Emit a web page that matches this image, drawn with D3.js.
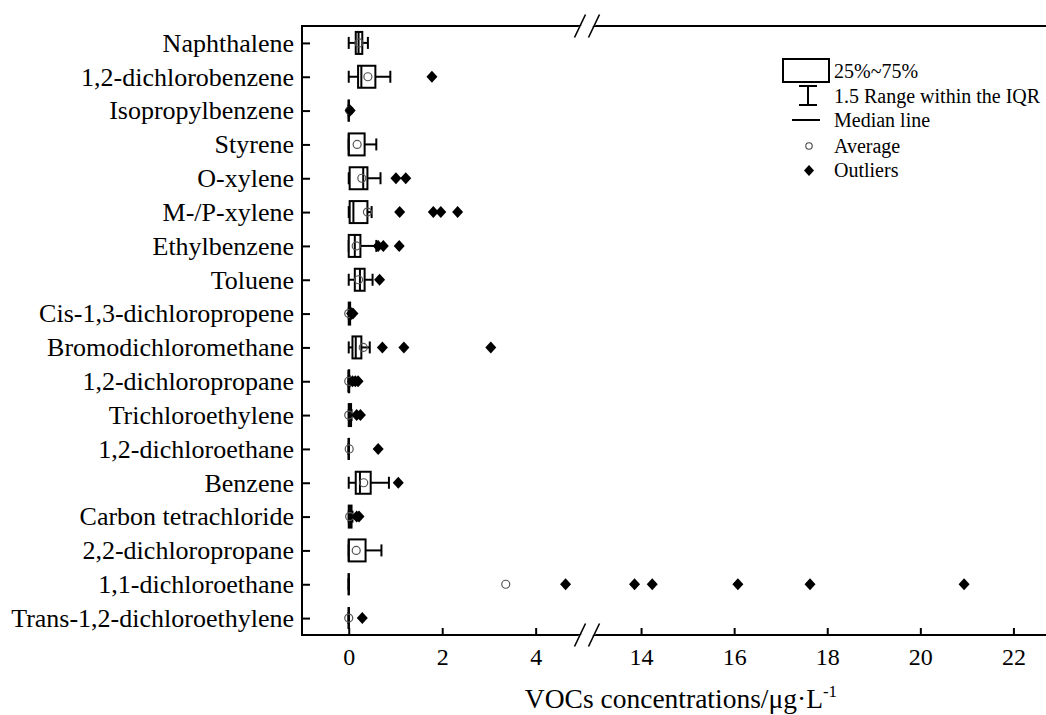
<!DOCTYPE html>
<html><head><meta charset="utf-8">
<script src="https://cdn.jsdelivr.net/npm/d3@7"></script>
<style>
html,body{margin:0;padding:0;background:#fff;}
svg{display:block;font-family:"Liberation Serif","Times New Roman",serif;}
</style></head>
<body>
<svg id="chart" width="1046" height="715"></svg>
<script>
const categories = ["Naphthalene","1,2-dichlorobenzene","Isopropylbenzene","Styrene","O-xylene","M-/P-xylene","Ethylbenzene","Toluene","Cis-1,3-dichloropropene","Bromodichloromethane","1,2-dichloropropane","Trichloroethylene","1,2-dichloroethane","Benzene","Carbon tetrachloride","2,2-dichloropropane","1,1-dichloroethane","Trans-1,2-dichloroethylene"];
const whiskerLow  = [0,   0,    0,    0,    0,    0,    0,    0,    0,    0,    0,    0,    0, 0,    0,    0,    0, 0];
const q1          = [0.15,0.20, 0,    0,    0.02, 0.02, 0,    0.13, 0,    0.08, 0,    0,    0, 0.15, 0,    0,    0, 0];
const median      = [0.21,0.27, 0,    0,    0.31, 0.10, 0.13, 0.24, 0.01, 0.15, 0,    0.02, 0, 0.24, 0.03, 0,    0, 0];
const q3          = [0.29,0.57, 0,    0.34, 0.40, 0.40, 0.25, 0.34, 0.03, 0.27, 0.01, 0.05, 0, 0.47, 0.06, 0.36, 0, 0];
const whiskerHigh = [0.41,0.89, 0,    0.59, 0.68, 0.49, 0.59, 0.51, 0.05, 0.45, 0.02, 0.06, 0, 0.86, 0.08, 0.70, 0, 0];
const means       = [0.22,0.41, 0.02, 0.18, 0.28, 0.40, 0.16, 0.21, 0,    0.31, 0,    0,    0.01, 0.32, 0.02, 0.16, 3.36, 0];
const outliers = [
  [], [1.78], [0.03], [], [1.01,1.22], [1.09,1.81,1.97,2.33], [0.63,0.74,1.08], [0.66],
  [0.06,0.09], [0.72,1.18,3.04], [0.08,0.14,0.20], [0.17,0.25], [0.63], [1.06], [0.17,0.22], [],
  [4.64,13.86,14.24,16.08,17.63,20.94], [0.29]
];
const leftTicks = [0,2,4];
const rightTicks = [14,16,18,20,22];
const legendLabels = ["25%~75%","1.5 Range within the IQR","Median line","Average","Outliers"];

const svg = d3.select("#chart");
const plotL = 302, plotT = 26, plotB = 635, plotR = 1046, breakX = 588;
const xL = d3.scaleLinear().domain([-1, 5.12]).range([plotL, breakX]);
const xR = d3.scaleLinear().domain([12.86, 22.7]).range([breakX, plotR]);
const x = v => v <= 5.12 ? xL(v) : xR(v);
const y = d3.scalePoint().domain(categories).range([plotT, plotB]).padding(0.5);

const boxH = 22, capH = 12;
const g = svg.append("g");

// boxes
categories.forEach((c, i) => {
  const cy = y(c);
  const row = g.append("g");
  row.append("line").attr("x1", x(whiskerLow[i])).attr("x2", x(q1[i])).attr("y1", cy).attr("y2", cy)
    .attr("stroke", "#000").attr("stroke-width", 2);
  row.append("line").attr("x1", x(q3[i])).attr("x2", x(whiskerHigh[i])).attr("y1", cy).attr("y2", cy)
    .attr("stroke", "#000").attr("stroke-width", 2);
  [whiskerLow[i], whiskerHigh[i]].forEach(v => {
    row.append("line").attr("x1", x(v)).attr("x2", x(v)).attr("y1", cy - capH/2).attr("y2", cy + capH/2)
      .attr("stroke", "#000").attr("stroke-width", 2);
  });
  row.append("rect").attr("x", x(q1[i])).attr("width", x(q3[i]) - x(q1[i]))
    .attr("y", cy - boxH/2).attr("height", boxH)
    .attr("fill", "#fff").attr("stroke", "#000").attr("stroke-width", 2);
  if (x(q3[i]) - x(q1[i]) < 1) {
    row.append("line").attr("x1", x(q1[i])).attr("x2", x(q1[i])).attr("y1", cy - boxH/2).attr("y2", cy + boxH/2)
      .attr("stroke", "#000").attr("stroke-width", 2.2);
  }
  row.append("line").attr("x1", x(median[i])).attr("x2", x(median[i])).attr("y1", cy - boxH/2).attr("y2", cy + boxH/2)
    .attr("stroke", "#000").attr("stroke-width", 2);
  row.append("circle").attr("cx", x(means[i])).attr("cy", cy).attr("r", 4)
    .attr("fill", "none").attr("stroke", "#555").attr("stroke-width", 1.2);
  row.selectAll("path.out").data(outliers[i]).enter().append("path")
    .attr("d", d => `M${x(d)},${cy-6}L${x(d)+5.5},${cy}L${x(d)},${cy+6}L${x(d)-5.5},${cy}Z`)
    .attr("fill", "#000");
});

// axes
const yAxis = d3.axisLeft(y).tickSizeInner(-8).tickSizeOuter(0).tickPadding(8);
const ya = svg.append("g").attr("transform", `translate(${plotL},0)`).call(yAxis);
ya.select(".domain").remove();
ya.selectAll("line").attr("stroke", "#000").attr("stroke-width", 2);
ya.selectAll("text").attr("font-size", 26).attr("fill", "#000").attr("font-family", "Liberation Serif");

function xAxis(scale, ticks) {
  const a = d3.axisBottom(scale).tickValues(ticks).tickFormat(d3.format("d"))
    .tickSizeInner(-7).tickSizeOuter(0).tickPadding(13);
  const ga = svg.append("g").attr("transform", `translate(0,${plotB})`).call(a);
  ga.select(".domain").remove();
  ga.selectAll("line").attr("stroke", "#000").attr("stroke-width", 2);
  ga.selectAll("text").attr("font-size", 24).attr("fill", "#000").attr("font-family", "Liberation Serif");
}
xAxis(xL, leftTicks);
xAxis(xR, rightTicks);

// frame lines
svg.append("line").attr("x1", plotL).attr("x2", plotL).attr("y1", plotT - 1).attr("y2", plotB + 1)
  .attr("stroke", "#000").attr("stroke-width", 2);
[plotT, plotB].forEach(yy => {
  svg.append("line").attr("x1", plotL - 1).attr("x2", plotR).attr("y1", yy).attr("y2", yy)
    .attr("stroke", "#000").attr("stroke-width", 2);
  const bx = breakX - 1;
  svg.append("polygon")
    .attr("points", `${bx-7+6},${yy-3} ${bx+7+6},${yy-3} ${bx+7-6},${yy+3} ${bx-7-6},${yy+3}`)
    .attr("fill", "#fff");
  [-7, 7].forEach(off => {
    svg.append("line").attr("x1", bx + off - 5.5).attr("y1", yy + 11.5)
      .attr("x2", bx + off + 5.5).attr("y2", yy - 11.5)
      .attr("stroke", "#000").attr("stroke-width", 1.6);
  });
});

// axis title
const title = svg.append("text").attr("x", 681).attr("y", 708).attr("text-anchor", "middle")
  .attr("font-size", 27.5).attr("fill", "#000");
title.append("tspan").text("VOCs concentrations/μg·L");
title.append("tspan").attr("dy", -11).attr("font-size", 17).text("-1");

// legend
const lg = svg.append("g").attr("font-size", 20);
const ly = [71, 96, 120, 146, 170];
lg.append("rect").attr("x", 783).attr("y", 59).attr("width", 46).attr("height", 23)
  .attr("fill", "#fff").attr("stroke", "#000").attr("stroke-width", 2);
lg.append("line").attr("x1", 808).attr("x2", 808).attr("y1", 86).attr("y2", 105).attr("stroke", "#000").attr("stroke-width", 2);
lg.append("line").attr("x1", 799).attr("x2", 817).attr("y1", 86).attr("y2", 86).attr("stroke", "#000").attr("stroke-width", 2);
lg.append("line").attr("x1", 799).attr("x2", 817).attr("y1", 105).attr("y2", 105).attr("stroke", "#000").attr("stroke-width", 2);
lg.append("line").attr("x1", 792).attr("x2", 820).attr("y1", 120).attr("y2", 120).attr("stroke", "#000").attr("stroke-width", 2);
lg.append("circle").attr("cx", 809).attr("cy", 146).attr("r", 3.2).attr("fill", "none").attr("stroke", "#444").attr("stroke-width", 1.1);
lg.append("path").attr("d", "M809,165L814,170.5L809,176L804,170.5Z").attr("fill", "#000");
legendLabels.forEach((t, i) => {
  lg.append("text").attr("x", 834).attr("y", ly[i]).attr("dy", "0.35em").attr("fill", "#000").text(t);
});
</script>
</body></html>
